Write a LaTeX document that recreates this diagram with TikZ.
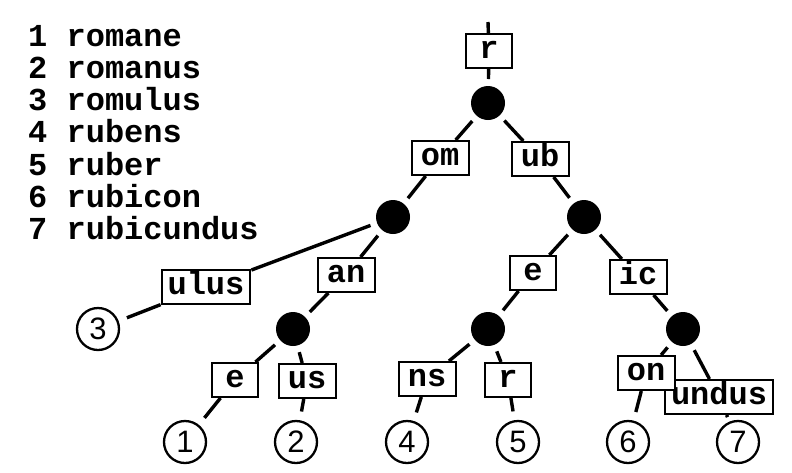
\documentclass[tikz,border=0pt]{standalone}
\usepackage{fontspec}
\newfontfamily\monofont{Liberation Mono}
\newfontfamily\leaffont{Liberation Sans}
\begin{document}
\begin{tikzpicture}[x=1pt,y=-1pt,
  conn/.style={line width=3.4pt},
  dot/.style={circle,fill=black,minimum size=34pt,inner sep=0pt,outer sep=7pt},
  leaf/.style={circle,draw,line width=2.3pt,minimum size=42pt,inner sep=0pt,outer sep=10pt,
    font=\leaffont\fontsize{31}{31}\selectfont},
  lab/.style={draw,fill=white,line width=2pt,inner xsep=6pt,inner ysep=0pt,
    minimum height=34pt,minimum width=57pt,text height=14pt,text depth=0pt,
    font=\monofont\bfseries\fontsize{32}{32}\selectfont},
  narrow/.style={minimum width=46pt},
  word/.style={anchor=base west,inner sep=0pt,font=\monofont\bfseries\fontsize{32}{32}\selectfont}
]
\useasboundingbox (0,0) rectangle (792,472);

% word list
\node[word] (w1) at (28,46) {1 romane};
\node[word] (w2) at (28,78) {2 romanus};
\node[word] (w3) at (28,110) {3 romulus};
\node[word] (w4) at (28,142) {4 rubens};
\node[word] (w5) at (28,175) {5 ruber};
\node[word] (w6) at (28,207) {6 rubicon};
\node[word] (w7) at (28,239) {7 rubicundus};

% inner nodes
\coordinate (top) at (488,22);
\node[dot] (root) at (488,103) {};
\node[dot] (A) at (393,217) {};
\node[dot] (B) at (584,217) {};
\node[dot] (C) at (293,329) {};
\node[dot] (D) at (488,329) {};
\node[dot] (E) at (683,329) {};

% leaves
\node[leaf] (l1) at (185,442) {1};
\node[leaf] (l2) at (296,442) {2};
\node[leaf] (l3) at (98,329) {3};
\node[leaf] (l4) at (407,442) {4};
\node[leaf] (l5) at (518,442) {5};
\node[leaf] (l6) at (628,442) {6};
\node[leaf] (l7) at (738,442) {7};

% labels
\node[lab,narrow] (r) at (489,51) {r};
\node[lab] (om) at (440,158) {om};
\node[lab] (ub) at (540,159) {ub};
\node[lab] (ulus) at (206,287) {ulus};
\node[lab] (an) at (346,275) {an};
\node[lab,narrow] (e1) at (235,380) {e};
\node[lab] (us) at (307,381) {us};
\node[lab,narrow] (e2) at (533,273) {e};
\node[lab] (ic) at (638,277) {ic};
\node[lab] (ns) at (427,379) {ns};
\node[lab,narrow] (r2) at (508,380) {r};
\node[lab] (undus) at (719,397) {undus};
\node[lab] (on) at (646,373) {on};

% connectors
\draw[conn] (top) -- (r);
\draw[conn] (r) -- (root);
\draw[conn] (root) -- (om);
\draw[conn] (om) -- (A);
\draw[conn] (root) -- (ub);
\draw[conn] (ub) -- (B);
\draw[conn] (A) -- (ulus);
\draw[conn] (ulus) -- (l3);
\draw[conn] (A) -- (an);
\draw[conn] (an) -- (C);
\draw[conn] (C) -- (e1);
\draw[conn] (e1) -- (l1);
\draw[conn] (C) -- (us);
\draw[conn] (us) -- (l2);
\draw[conn] (B) -- (e2);
\draw[conn] (e2) -- (D);
\draw[conn] (B) -- (ic);
\draw[conn] (ic) -- (E);
\draw[conn] (D) -- (ns);
\draw[conn] (ns) -- (l4);
\draw[conn] (D) -- (r2);
\draw[conn] (r2) -- (l5);
\draw[conn] (E) -- (on);
\draw[conn] (on) -- (l6);
\draw[conn] (E) -- (undus);
\draw[conn,shorten >=27pt] (undus) -- (l7.center);
\end{tikzpicture}
\end{document}
